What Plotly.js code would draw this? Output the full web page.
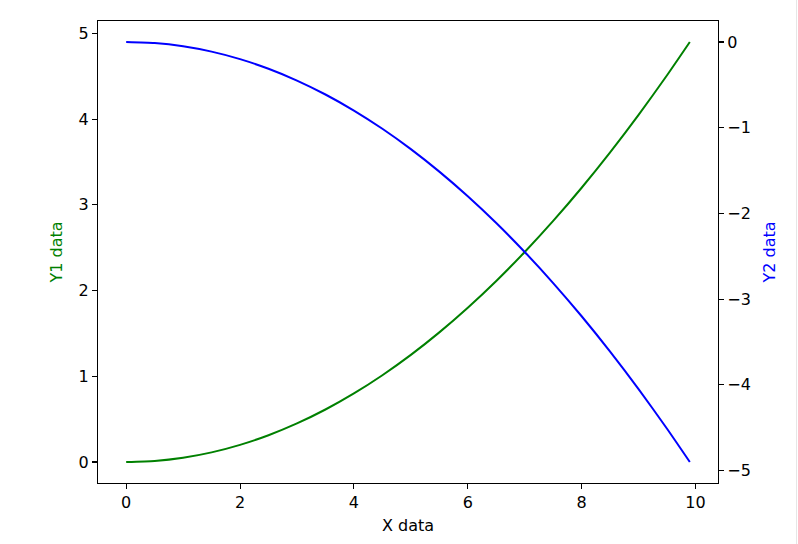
<!DOCTYPE html>
<html>
<head>
<meta charset="utf-8">
<script src="https://cdn.plot.ly/plotly-3.0.1.min.js"></script>
<style>html,body{margin:0;padding:0;background:#fff;}</style>
</head>
<body>
<div id="chart" style="width:798px;height:544px;"></div>
<script>
const xData = [0, 0.5, 1, 1.5, 2, 2.5, 3, 3.5, 4, 4.5, 5, 5.5, 6, 6.5, 7, 7.5, 8, 8.5, 9, 9.5, 9.9];
const y1Data = [0, 0.0125, 0.05, 0.1125, 0.2, 0.3125, 0.45, 0.6125, 0.8, 1.0125, 1.25, 1.5125, 1.8, 2.1125, 2.45, 2.8125, 3.2, 3.6125, 4.05, 4.5125, 4.9005];
const y2Data = [0, -0.0125, -0.05, -0.1125, -0.2, -0.3125, -0.45, -0.6125, -0.8, -1.0125, -1.25, -1.5125, -1.8, -2.1125, -2.45, -2.8125, -3.2, -3.6125, -4.05, -4.5125, -4.9005];
const xTicks = [0, 2, 4, 6, 8, 10];
const y1Ticks = [0, 1, 2, 3, 4, 5];
const y2Ticks = [0, -1, -2, -3, -4, -5];

const font = {family: 'DejaVu Sans', size: 16, color: '#000'};
const axisBase = {
  showgrid: false, zeroline: false, showline: true, linecolor: '#000', linewidth: 1.1,
  ticks: 'outside', ticklen: 5, tickwidth: 1.1, tickcolor: '#000', tickfont: font
};

const traces = [
  {x: xData, y: y1Data, type: 'scatter', mode: 'lines', line: {color: '#008000', width: 2, shape: 'spline', smoothing: 0.6}, yaxis: 'y', hoverinfo: 'skip'},
  {x: xData, y: y2Data, type: 'scatter', mode: 'lines', line: {color: '#0000ff', width: 2, shape: 'spline', smoothing: 0.6}, yaxis: 'y2', hoverinfo: 'skip'}
];

const layout = {
  width: 798, height: 544,
  margin: {l: 98, r: 80, t: 21, b: 61, pad: 0},
  paper_bgcolor: '#fff', plot_bgcolor: '#fff',
  showlegend: false,
  font: font,
  xaxis: Object.assign({}, axisBase, {
    range: [-0.495, 10.395], tickvals: xTicks, ticktext: xTicks.map(String), mirror: true,
    title: {text: 'X data', font: font, standoff: 8}
  }),
  yaxis: Object.assign({}, axisBase, {
    range: [-0.245, 5.1455], tickvals: y1Ticks, ticktext: y1Ticks.map(String),
    title: {text: 'Y1 data', font: Object.assign({}, font, {color: '#008000'}), standoff: 11}
  }),
  yaxis2: Object.assign({}, axisBase, {
    overlaying: 'y', side: 'right', range: [-5.1455, 0.245],
    tickvals: y2Ticks, ticktext: y2Ticks.map(v => v < 0 ? '\u2212' + Math.abs(v) : String(v)),
    title: {text: 'Y2 data', font: Object.assign({}, font, {color: '#0000ff'}), standoff: 13}
  }),
  shapes: [
    {type: 'line', xref: 'paper', yref: 'paper', x0: 1.1266, x1: 1.1266, y0: -0.2, y1: 1.1, line: {color: '#e6e6e6', width: 1}}
  ]
};

Plotly.newPlot('chart', traces, layout, {staticPlot: true, displayModeBar: false});
</script>
</body>
</html>
